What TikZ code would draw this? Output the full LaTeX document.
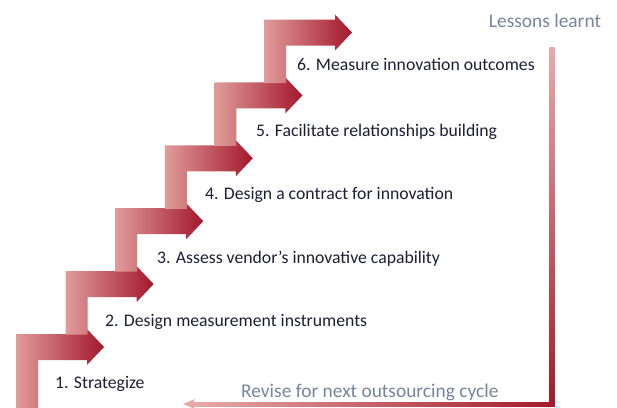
\documentclass[tikz,border=0pt]{standalone}
\usepackage{fontspec}
\setmainfont{Carlito}
\usetikzlibrary{calc}
\definecolor{stepLight}{RGB}{224,156,154}
\definecolor{stepDark}{RGB}{163,24,44}
\definecolor{lineLight}{RGB}{232,170,168}
\definecolor{textDark}{RGB}{28,30,52}
\definecolor{textGray}{RGB}{118,132,158}
\tikzset{
  steplabel/.style={anchor=base west, inner sep=0pt, text=textDark, font=\fontsize{17.7}{20}\selectfont},
  graylabel/.style={inner sep=0pt, text=textGray, font=\fontsize{19.4}{22}\selectfont},
  stepshade/.style={left color=stepLight, right color=stepDark},
}
\begin{document}
\begin{tikzpicture}[x=1pt,y=-1pt]
\useasboundingbox (0,0) rectangle (617,407);
% staircase arrows
\foreach \i in {0,...,5} {
  \pgfmathsetmacro\L{16+49.6*\i}
  \pgfmathsetmacro\T{334-62.9*\i}
  \pgfmathsetmacro\B{\i==0 ? 408 : \T+63.5}
  \shade[stepshade] (\L,\B) -- (\L,\T) -- (\L+71,\T) -- (\L+71,\T-5) -- (\L+88,\T+13)
    -- (\L+71,\T+31) -- (\L+71,\T+26) -- (\L+22,\T+26) -- (\L+22,\B) -- cycle;
}
% step labels
\node[steplabel] (s1) at (55,388) {1. Strategize};
\node[steplabel] (s2) at (105,326) {2. Design measurement instruments};
\node[steplabel] (s3) at (157,263) {3. Assess vendor’s innovative capability};
\node[steplabel] (s4) at (205,199) {4. Design a contract for innovation};
\node[steplabel] (s5) at (256,136) {5. Facilitate relationships building};
\node[steplabel] (s6) at (297,70) {6. Measure innovation outcomes};
% feedback loop
\node[graylabel, anchor=base] (lessons) at (545,27) {Lessons learnt};
\node[graylabel, anchor=base west] (revise) at (241,397) {Revise for next outsourcing cycle};
\coordinate (lt) at (552,47);
\coordinate (lc) at (552,404);
\coordinate (le) at (183,404);
\shade[top color=lineLight, bottom color=stepDark] ($(lt)+(-2.5,0)$) rectangle ($(lc)+(2.5,2)$);
\shade[left color=lineLight, right color=stepDark] ($(le)+(8,-2)$) rectangle ($(lc)+(2.5,2)$);
\fill[lineLight] (le) -- ($(le)+(12,-5)$) -- ($(le)+(9,0)$) -- ($(le)+(12,5)$) -- cycle;
\end{tikzpicture}
\end{document}
